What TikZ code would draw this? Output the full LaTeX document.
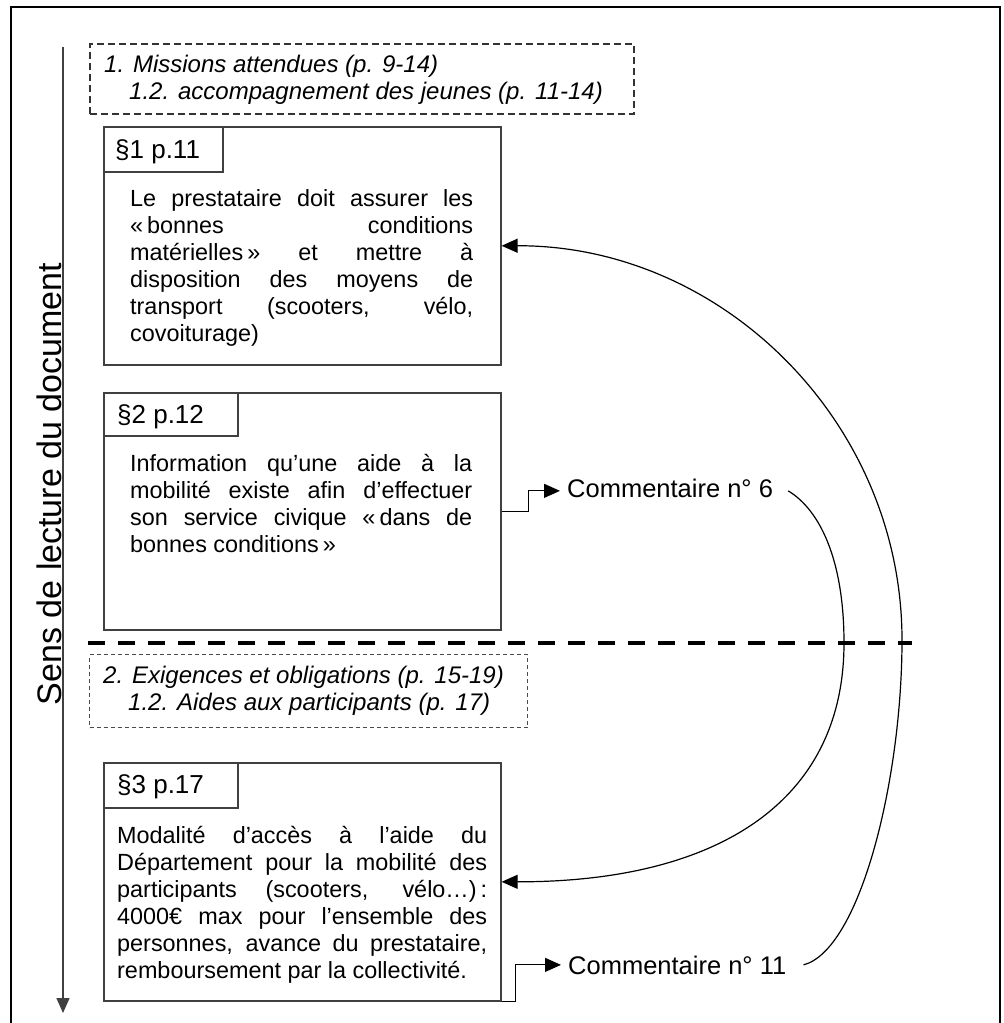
\documentclass[tikz,border=0pt]{standalone}
\usepackage{fontspec}
\setmainfont{Liberation Sans}
\usetikzlibrary{arrows.meta}
\definecolor{boxgray}{HTML}{404040}
\definecolor{dashgray}{HTML}{4A4A4A}
\newcommand\oq{«\kern4pt}
\newcommand\fq{\kern4pt»}
\newcommand\bodytext[2]{\parbox[t]{#1}{\hyphenpenalty=10000 \exhyphenpenalty=10000 \tolerance=10000 #2}}
\begin{document}
\begin{tikzpicture}[x=1pt,y=-1pt,
  box/.style={draw=boxgray, line width=1.6pt, inner sep=0pt, anchor=north west},
  dboxa/.style={draw=black!80, line width=1.7pt, dash pattern=on 7pt off 4pt, inner sep=0pt, anchor=north west},
  dboxb/.style={draw=dashgray, line width=1.3pt, dash pattern=on 4pt off 3pt, inner sep=0pt, anchor=north west},
  body/.style={anchor=base west, inner sep=0pt, font=\fontsize{23.4}{27.1}\selectfont},
  lbl/.style={anchor=base west, inner sep=0pt, font=\fontsize{26}{30}\selectfont},
  ital/.style={anchor=base west, inner sep=0pt, font=\fontsize{24}{27}\selectfont\itshape},
  comm/.style={anchor=base west, inner xsep=7pt, inner ysep=0pt, font=\fontsize{25.5}{30}\selectfont},
  arr/.style={line width=1.2pt, -{Triangle[length=16pt,width=14pt]}},
]
\useasboundingbox (0,0) rectangle (1004,1023);
% outer frame
\draw[line width=2.5pt] (11,1040) -- (11,7) -- (1000,7) -- (1000,1040);

% reading direction
\coordinate (vtop) at (63,47);
\coordinate (vbot) at (63,1013);
\draw[draw=boxgray, line width=1.5pt, -{Triangle[length=15pt,width=13pt]}] (vtop) -- (vbot);
\node[rotate=90, anchor=base, inner sep=0pt, font=\fontsize{34}{40}\selectfont] (side) at (61,484) {Sens de lecture du document};

% section 1 header
\node[dboxa, minimum width=544pt, minimum height=70pt] (h1) at (89,43) {};
\node[ital] (h1a) at (104,72) {1. Missions attendues (p. 9-14)};
\node[ital] (h1b) at (129,99) {1.2. accompagnement des jeunes (p. 11-14)};

% box 1
\node[box, minimum width=397pt, minimum height=238pt] (b1) at (103,126) {};
\node[box, minimum width=119pt, minimum height=45pt] (l1) at (103,126) {};
\node[lbl] (l1t) at (115,158) {§1 p.11};
\node[body] (t1) at (130,206) {\bodytext{343pt}{Le prestataire doit assurer les\linebreak
\oq bonnes conditions\linebreak
matérielles\fq{} et mettre à\linebreak
disposition des moyens de\linebreak
transport (scooters, vélo,\linebreak
covoiturage)}};

% box 2
\node[box, minimum width=397pt, minimum height=237pt] (b2) at (103,392) {};
\node[box, minimum width=134pt, minimum height=43pt] (l2) at (103,392) {};
\node[lbl] (l2t) at (117,423) {§2 p.12};
\node[body] (t2) at (130,471) {\bodytext{342pt}{Information qu’une aide à la\linebreak
mobilité existe afin d’effectuer\linebreak
son service civique \oq dans de\linebreak
bonnes conditions\fq}};

% separator
\coordinate (sepL) at (88,643);
\coordinate (sepR) at (912,643);
\draw[line width=4pt, dash pattern=on 17pt off 13pt] (sepL) -- (sepR);

% section 2 header
\node[dboxb, minimum width=438pt, minimum height=73pt] (h2) at (89,654) {};
\node[ital] (h2a) at (103,683) {2. Exigences et obligations (p. 15-19)};
\node[ital] (h2b) at (128,710) {1.2. Aides aux participants (p. 17)};

% box 3
\node[box, minimum width=397pt, minimum height=238pt] (b3) at (103,762) {};
\node[box, minimum width=134pt, minimum height=45pt] (l3) at (103,762) {};
\node[lbl] (l3t) at (117,793) {§3 p.17};
\node[body] (t3) at (117,843) {\bodytext{370pt}{Modalité d’accès à l’aide du\linebreak
Département pour la mobilité des\linebreak
participants (scooters, vélo…)\kern4pt:\linebreak
4000€ max pour l’ensemble des\linebreak
personnes, avance du prestataire,\linebreak
remboursement par la collectivité.}};

% comments
\node[comm, text height=18.3pt, text depth=6pt] (c6) at (560,497) {Commentaire n° 6};
\node[comm] (c11) at (561,974) {Commentaire n° 11};

\draw[arr] (b2.east) -- ++(27,0) |- (c6.west);
\draw[arr] (b3.south east) -- ++(14,0) |- (c11.west);

% links
\draw[arr] ([xshift=8pt]c6.east) .. controls (820,510) and (844,560) .. (844,643)
  .. controls (844,800) and (720,882) .. (b3.east);
\draw[arr] ([xshift=10pt]c11.east) .. controls (860,950) and (902,780) .. (902,640)
  .. controls (902,422) and (722,245) .. (b1.east);
\end{tikzpicture}
\end{document}
